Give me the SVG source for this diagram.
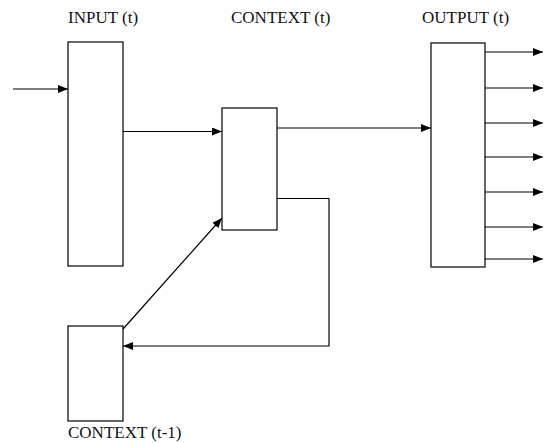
<svg xmlns="http://www.w3.org/2000/svg" width="547" height="443" viewBox="0 0 547 443">
<style>
.box{fill:#fff;stroke:#000;stroke-width:1.2}
.lbl{font-family:"Liberation Serif","Times New Roman",serif;font-size:17px;fill:#111}
.ln{fill:none;stroke:#000;stroke-width:1.2}
</style>
<defs>
<marker id="ah" viewBox="0 0 10 8" refX="10" refY="4" markerWidth="10" markerHeight="8" markerUnits="userSpaceOnUse" orient="auto">
<path d="M0,0 L10,4 L0,8 Z" fill="#000"/>
</marker>
</defs>
<rect width="547" height="443" fill="#fff"/>
<g id="input">
<rect class="box" x="68" y="42" width="55" height="224"/>
<text class="lbl" x="68" y="23">INPUT (t)</text>
</g>
<g id="context">
<rect class="box" x="222" y="108" width="55" height="122"/>
<text class="lbl" x="231" y="23">CONTEXT (t)</text>
</g>
<g id="output">
<rect class="box" x="431" y="43" width="54" height="224"/>
<text class="lbl" x="422" y="23">OUTPUT (t)</text>
</g>
<g id="context-prev">
<rect class="box" x="68" y="326" width="55" height="95"/>
<text class="lbl" x="68" y="438">CONTEXT (t-1)</text>
</g>
<g id="connectors">
<line class="ln" x1="13" y1="89" x2="68" y2="89" marker-end="url(#ah)"/>
<line class="ln" x1="123" y1="131.5" x2="222" y2="131.5" marker-end="url(#ah)"/>
<line class="ln" x1="277" y1="128" x2="431" y2="128" marker-end="url(#ah)"/>
<polyline class="ln" points="277,198.5 329,198.5 329,346 123,346" marker-end="url(#ah)"/>
<line class="ln" x1="123" y1="329" x2="222" y2="218" marker-end="url(#ah)"/>
<line class="ln" x1="485" y1="52" x2="543" y2="52" marker-end="url(#ah)"/>
<line class="ln" x1="485" y1="88" x2="543" y2="88" marker-end="url(#ah)"/>
<line class="ln" x1="485" y1="123" x2="543" y2="123" marker-end="url(#ah)"/>
<line class="ln" x1="485" y1="157" x2="543" y2="157" marker-end="url(#ah)"/>
<line class="ln" x1="485" y1="192" x2="543" y2="192" marker-end="url(#ah)"/>
<line class="ln" x1="485" y1="227" x2="543" y2="227" marker-end="url(#ah)"/>
<line class="ln" x1="485" y1="259" x2="543" y2="259" marker-end="url(#ah)"/>
</g>
</svg>
